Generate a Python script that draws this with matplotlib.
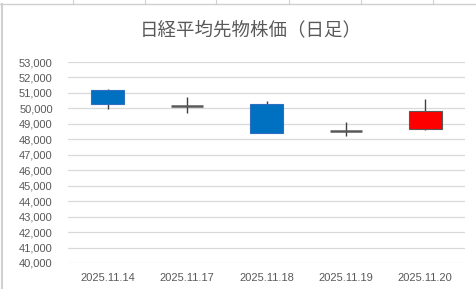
import matplotlib
matplotlib.use("Agg")
import matplotlib.pyplot as plt
from matplotlib.lines import Line2D
from matplotlib.patches import Rectangle
from matplotlib.ticker import FuncFormatter, MultipleLocator

plt.rcParams['font.family'] = ['Noto Sans CJK JP', 'DejaVu Sans']

dates = ["2025.11.14", "2025.11.17", "2025.11.18", "2025.11.19", "2025.11.20"]
open_ = [51160, 50180, 50280, 48550, 48670]
high = [51250, 50710, 50470, 49100, 50580]
low = [49930, 49670, 48440, 48220, 48610]
close = [50260, 50160, 48440, 48540, 49860]

title = "日経平均先物株価（日足）"

W, H = 477, 289
fig = plt.figure(figsize=(W / 100, H / 100), dpi=100)
ax = fig.add_axes([68 / W, 1 - 263 / H, (465 - 68) / W, (263 - 62) / H])

up_color = "#FF0000"
down_color = "#0070C0"
wick_color = "#404040"
body_w = 0.41

for i, (o, h, l, c) in enumerate(zip(open_, high, low, close)):
    ax.plot([i, i], [l, h], color=wick_color, lw=1.0, zorder=2, solid_capstyle="butt")
    bottom = min(o, c)
    height = abs(c - o)
    if height < 60:
        ax.plot([i - body_w / 2, i + body_w / 2], [(o + c) / 2] * 2,
                color="#595959", lw=1.8, zorder=3, solid_capstyle="butt")
    else:
        if c >= o:
            fc, ec = up_color, "#595959"
        else:
            fc, ec = down_color, "#2F6FC0"
        ax.add_patch(Rectangle((i - body_w / 2, bottom), body_w, height,
                               facecolor=fc, edgecolor=ec, lw=0.8, zorder=3))

ax.set_xlim(-0.5, len(dates) - 0.5)
ax.set_ylim(40000, 53000)
ax.yaxis.set_major_locator(MultipleLocator(1000))
ax.yaxis.set_major_formatter(FuncFormatter(lambda v, p: f"{int(v):,}"))
ax.set_xticks(range(len(dates)))
ax.set_xticklabels(dates)
ax.grid(axis="y", color="#D9D9D9", lw=0.9)
ax.set_axisbelow(True)
for s in ax.spines.values():
    s.set_visible(False)
ax.tick_params(axis="both", length=0, labelsize=8, labelcolor="#595959")
ax.tick_params(axis="y", pad=11)
ax.tick_params(axis="x", pad=7)
for lab in ax.get_xticklabels() + ax.get_yticklabels():
    lab.set_fontfamily(["Liberation Sans", "DejaVu Sans"])

fig.text(251 / W, 1 - 30 / H, title, ha="center", va="center",
         fontsize=13.3, color="#595959")

# spreadsheet frame lines
fig.add_artist(Line2D([0, 1], [1 - 3.5 / H] * 2, color="#D0D0D0", lw=1.0,
                      transform=fig.transFigure))
fig.add_artist(Line2D([1.5 / W] * 2, [0, 1 - 3.5 / H], color="#D0D0D0", lw=1.5,
                      transform=fig.transFigure))
for xv in [72.5, 144.5, 216.5, 289, 361, 433]:
    fig.add_artist(Line2D([xv / W] * 2, [1 - 3.5 / H, 1], color="#D0D0D0", lw=0.8,
                          transform=fig.transFigure))

fig.savefig("out.png", dpi=100)
